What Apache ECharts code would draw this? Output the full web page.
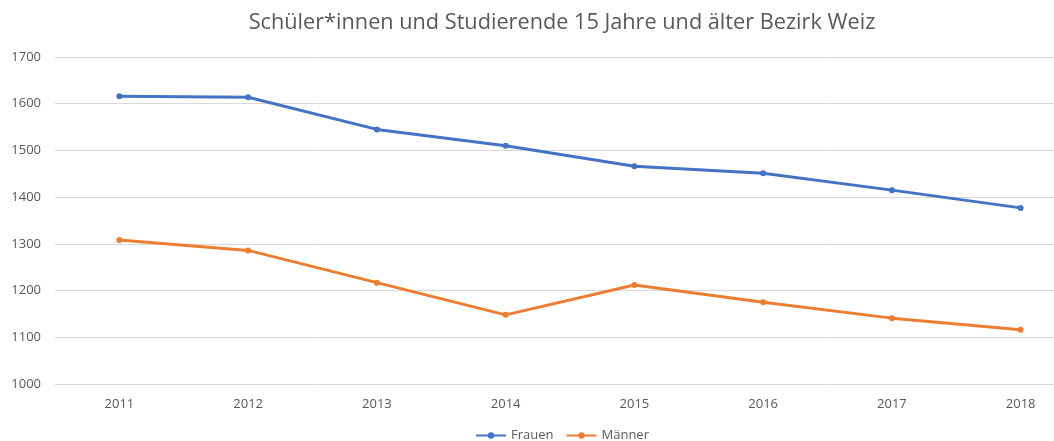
<!DOCTYPE html>
<html>
<head>
<meta charset="utf-8">
<script src="https://cdn.jsdelivr.net/npm/echarts@6/dist/echarts.min.js"></script>
<style>
  html, body { margin: 0; padding: 0; background: #fff; overflow: hidden; }
  /* breiter als das Fenster: das Original ist rechts abgeschnitten */
  #chart { width: 1090px; height: 441px; }
</style>
</head>
<body>
<div id="chart"></div>
<script>
// Jahre
const years = ['2011', '2012', '2013', '2014', '2015', '2016', '2017', '2018'];
// Schüler*innen und Studierende
const frauen = [1616, 1614, 1545, 1510, 1466, 1451, 1415, 1377];
const maenner = [1308, 1286, 1217, 1148, 1212, 1175, 1141, 1116];

const chart = echarts.init(document.getElementById('chart'));

const font = 'Open Sans, Liberation Sans, sans-serif';

chart.setOption({
  animation: false,
  title: {
    text: 'Schüler*innen und Studierende 15 Jahre und älter Bezirk Weiz',
    left: 557,
    textAlign: 'center',
    top: 7,
    textStyle: { fontFamily: font, fontSize: 21.7, fontWeight: 'normal', color: '#595959' }
  },
  legend: {
    bottom: -6,
    left: 470,
    itemWidth: 30,
    itemHeight: 8,
    itemGap: 12,
    textStyle: { fontFamily: font, fontSize: 13, color: '#595959' },
    data: ['Frauen', 'Männer']
  },
  grid: { left: 55, right: 5, top: 57, bottom: 57 },
  xAxis: {
    type: 'category',
    data: years,
    boundaryGap: true,
    axisLine: { show: false },
    axisTick: { show: false },
    axisLabel: { fontFamily: font, fontSize: 13, color: '#595959', margin: 14 }
  },
  yAxis: {
    type: 'value',
    min: 1000,
    max: 1700,
    interval: 100,
    axisLine: { show: false },
    axisTick: { show: false },
    axisLabel: { fontFamily: font, fontSize: 13, color: '#595959', margin: 14, formatter: v => String(v) },
    splitLine: { lineStyle: { color: '#d9d9d9', width: 1 } }
  },
  series: [
    {
      name: 'Frauen',
      type: 'line',
      data: frauen,
      color: '#4472C4',
      symbol: 'circle',
      symbolSize: 6,
      lineStyle: { width: 3 }
    },
    {
      name: 'Männer',
      type: 'line',
      data: maenner,
      color: '#ED7D31',
      symbol: 'circle',
      symbolSize: 6,
      lineStyle: { width: 3 }
    }
  ]
});
</script>
</body>
</html>
